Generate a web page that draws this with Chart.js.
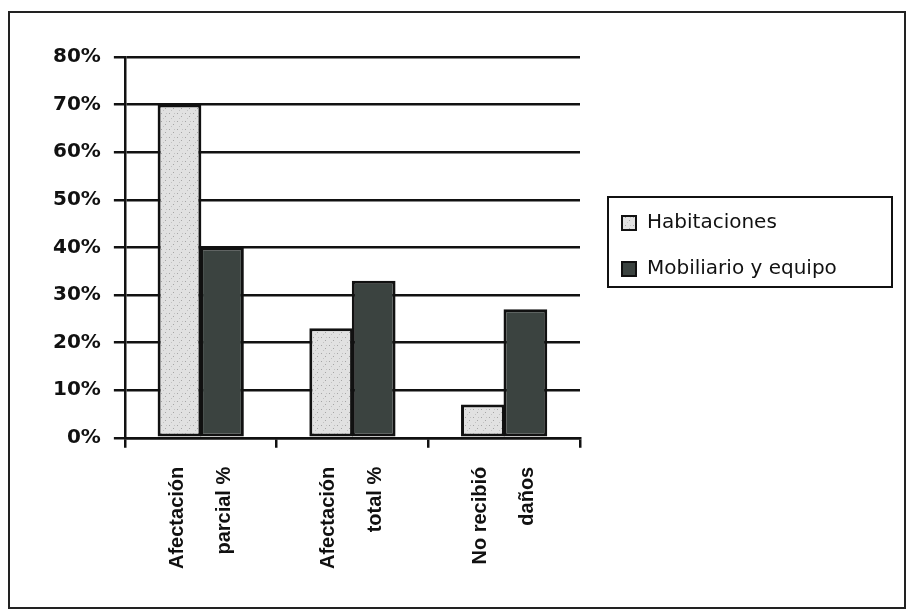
<!DOCTYPE html>
<html>
<head>
<meta charset="utf-8">
<title>Afectación</title>
<script src="https://cdn.jsdelivr.net/npm/chart.js@4.4.1/dist/chart.umd.min.js"></script>
<style>
  html, body { margin: 0; padding: 0; background: #ffffff; }
  #wrap { width: 909px; height: 613px; position: relative; }
</style>
</head>
<body>
<div id="wrap"><canvas id="chart"></canvas></div>
<script>
// Categories (two-line labels) and series
const categories = [
  ['Afectación', 'parcial %'],
  ['Afectación', 'total %'],
  ['No recibió', 'daños']
];
const seriesNames = ['Habitaciones', 'Mobiliario y equipo'];
const habitaciones = [70, 23, 7];
const mobiliario = [40, 33, 27];
const yTickValues = [0, 10, 20, 30, 40, 50, 60, 70, 80];

const INK = '#111111';
const DARK_FILL = '#3b4340';
const LABEL_SIZE = 20;
const LABEL_LINE = 2.35;

// Light grey speckled fill
function speckle() {
  const c = document.createElement('canvas');
  c.width = 8; c.height = 8;
  const g = c.getContext('2d');
  g.fillStyle = '#e1e1e1';
  g.fillRect(0, 0, 8, 8);
  g.fillStyle = '#a5a5a5';
  g.fillRect(1, 1, 1, 1);
  g.fillRect(5, 4, 1, 1);
  g.fillStyle = '#c2c2c2';
  g.fillRect(3, 6, 1, 1);
  g.fillRect(6, 1, 1, 1);
  return g.createPattern(c, 'repeat');
}
const LIGHT_FILL = speckle();

// Page frame behind everything
const frame = {
  id: 'frame',
  beforeDraw(chart) {
    const ctx = chart.ctx;
    ctx.save();
    ctx.fillStyle = '#ffffff';
    ctx.fillRect(0, 0, chart.width, chart.height);
    ctx.lineWidth = 2;
    ctx.strokeStyle = '#222222';
    ctx.strokeRect(9, 12, 896, 596);
    ctx.restore();
  }
};

// Boxed legend to the right of the plot
const boxLegend = {
  id: 'boxLegend',
  afterDraw(chart) {
    const ctx = chart.ctx;
    const left = 608, top = 197, w = 284, h = 90;
    ctx.save();
    ctx.lineWidth = 2;
    ctx.strokeStyle = INK;
    ctx.strokeRect(left, top, w, h);
    ctx.font = '20px "DejaVu Sans"';
    ctx.textBaseline = 'middle';
    ctx.textAlign = 'left';
    chart.data.datasets.forEach((ds, i) => {
      const cy = top + 26 + i * 46;
      ctx.fillStyle = ds.backgroundColor;
      ctx.fillRect(622, cy - 7, 14, 14);
      ctx.lineWidth = 2;
      ctx.strokeStyle = INK;
      ctx.strokeRect(622, cy - 7, 14, 14);
      ctx.fillStyle = INK;
      ctx.fillText(ds.label, 647, cy);
    });
    ctx.restore();
  }
};

new Chart(document.getElementById('chart'), {
  type: 'bar',
  data: {
    labels: categories,
    datasets: [
      {
        label: seriesNames[0],
        data: habitaciones,
        backgroundColor: LIGHT_FILL,
        borderColor: INK,
        borderWidth: 3,
        borderSkipped: false
      },
      {
        label: seriesNames[1],
        data: mobiliario,
        backgroundColor: DARK_FILL,
        borderColor: INK,
        borderWidth: 3,
        borderSkipped: false
      }
    ]
  },
  options: {
    responsive: true,
    maintainAspectRatio: false,
    animation: false,
    layout: { padding: { left: 40, right: 329, top: 57, bottom: 25 } },
    datasets: { bar: { categoryPercentage: 0.56, barPercentage: 1.03 } },
    plugins: {
      legend: { display: false },
      tooltip: { enabled: false }
    },
    scales: {
      x: {
        grid: {
          offset: true,
          drawOnChartArea: true,
          color: (ctx) => (ctx.index === categories.length ? INK : 'rgba(0,0,0,0)'),
          tickColor: INK,
          lineWidth: 2.5,
          tickLength: 10
        },
        border: { display: true, color: INK, width: 2.5 },
        ticks: {
          autoSkip: false,
          minRotation: 90,
          maxRotation: 90,
          padding: 19,
          labelOffset: -(LABEL_SIZE * LABEL_LINE) / 2,
          color: INK,
          font: { family: '"Liberation Sans", Arial, sans-serif', size: LABEL_SIZE, weight: 'bold', lineHeight: LABEL_LINE }
        }
      },
      y: {
        min: 0,
        max: 80,
        afterBuildTicks: (axis) => { axis.ticks = yTickValues.map(v => ({ value: v })); },
        grid: {
          color: INK,
          lineWidth: 2.5,
          tickLength: 11,
          drawTicks: true
        },
        border: { display: true, color: INK, width: 2.5 },
        ticks: {
          padding: 13,
          color: INK,
          callback: (v) => v + '%',
          font: { family: '"DejaVu Sans", sans-serif', size: 20, weight: 'bold' }
        }
      }
    }
  },
  plugins: [frame, boxLegend]
});
</script>
</body>
</html>
